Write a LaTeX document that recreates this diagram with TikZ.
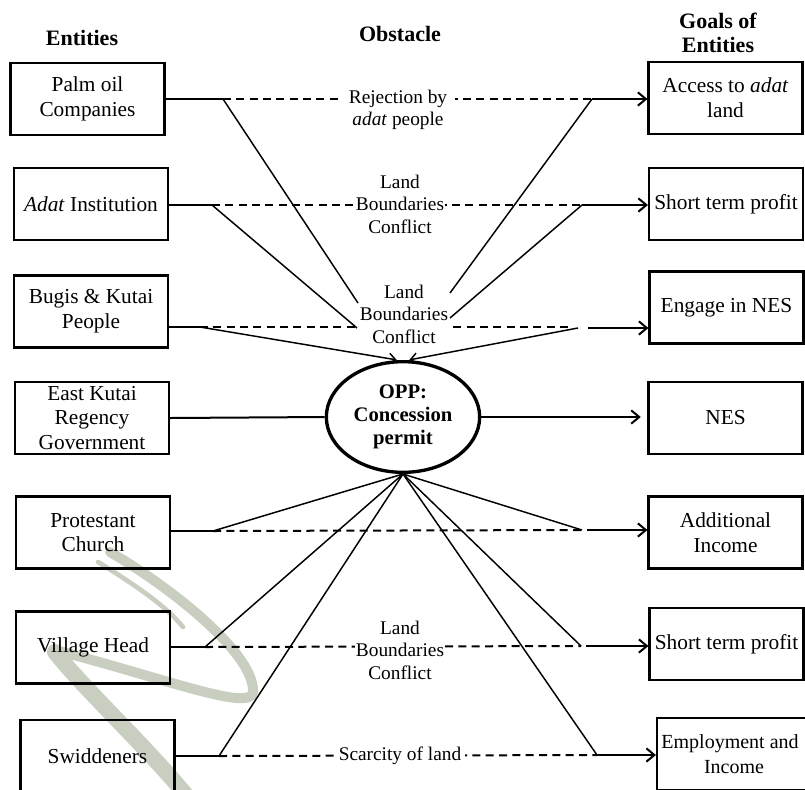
\documentclass[tikz,border=0pt]{standalone}
\usepackage{fontspec}
\setmainfont{Liberation Serif}
\usetikzlibrary{arrows.meta,shapes.geometric}
\definecolor{wmcol}{RGB}{200,206,192}
\begin{document}
\begin{tikzpicture}[x=0.75pt,y=-0.75pt,
  entbox/.style={draw, line width=1.6pt, minimum width=115.5pt, minimum height=54pt,
    align=center, inner sep=2pt, font=\fontsize{16}{18.5}\selectfont},
  hdr/.style={align=center, font=\fontsize{16.5}{17.5}\selectfont\bfseries},
  obst/.style={fill=white, align=center, inner sep=1pt, font=\fontsize{14.5}{16.8}\selectfont},
  stub/.style={line width=1.5pt},
  diag/.style={line width=1.1pt},
  dashln/.style={line width=1.5pt, dash pattern=on 6pt off 4pt},
  goal/.style={line width=1.5pt, -{Straight Barb[length=6pt,width=10pt]}},
  intoopp/.style={line width=1.1pt, -{Straight Barb[length=5pt,width=8pt]}, shorten >=1pt},
  wm/.style={draw=wmcol, line cap=round}
]
\useasboundingbox (0,0) rectangle (805,789);
\clip (0,0) rectangle (805,789);

% faint swoosh in the background
\draw[wm, line width=7.5pt] (110,552) .. controls (175,590) and (255,655) .. (253,692)
  .. controls (251,712) and (170,680) .. (55,650);
\draw[wm, line width=3.5pt] (98,562) .. controls (135,585) and (165,605) .. (183,627);
\draw[wm, line width=12pt] (55,652) .. controls (85,690) and (150,750) .. (190,800);

% column headings
\node[hdr] (hEnt) at (82,38) {Entities};
\node[hdr] (hObs) at (400,34) {Obstacle};
\node[hdr] (hGoal) at (718,33) {Goals of\\Entities};

% entities
\node[entbox] (palm)  at (87.5,99)   {Palm oil\\Companies};
\node[entbox] (adat)  at (91,204)    {\textit{Adat} Institution};
\node[entbox] (bugis) at (91,311.5)  {Bugis \& Kutai\\People};
\node[entbox] (ekrg)  at (92,418)    {East Kutai\\Regency\\Government};
\node[entbox] (prot)  at (93,532.5)  {Protestant\\Church};
\node[entbox] (vill)  at (93,647.5)  {Village Head};
\node[entbox] (swid)  at (97.5,756)  {Swiddeners};

% goals
\node[entbox] (access) at (725.5,98)   {Access to \textit{adat}\\land};
\node[entbox] (stpA)   at (726,204)    {Short term profit};
\node[entbox] (engage) at (726.5,307.5){Engage in NES};
\node[entbox] (nes)    at (725.5,418)  {NES};
\node[entbox] (addinc) at (725.5,532.5){Additional\\Income};
\node[entbox] (stpB)   at (726.5,644)  {Short term profit};
\node[entbox, font=\fontsize{15}{18.5}\selectfont] (employ) at (734,754)
  {\hspace*{-6pt}Employment and\\Income};

% obligatory passage point
\node[ellipse, draw, line width=2.5pt, minimum width=115pt, minimum height=83pt,
  inner sep=0pt, align=center, font=\fontsize{15.5}{17.25}\selectfont\bfseries]
  (opp) at (403,417) {OPP:\\Concession\\permit};

% junction points on each row
\coordinate (jPalmL) at (223,99);
\coordinate (jPalmR) at (592,99);
\coordinate (jAdatL) at (212,205);
\coordinate (jAdatR) at (582,205);
\coordinate (jBugL)  at (200,327);
\coordinate (dBug)   at (572,327);
\coordinate (jBugR)  at (578,328);
\coordinate (aBug)   at (588,328);
\coordinate (jProtL) at (213,531);
\coordinate (jProtR) at (582,530);
\coordinate (aProt)  at (587,530);
\coordinate (jVilL)  at (205,647);
\coordinate (jVilR)  at (581,646);
\coordinate (aVil)   at (586,646);
\coordinate (jSwiL)  at (219,756);
\coordinate (jSwiR)  at (597,755);
% where the crossing lines meet the middle obstacle
\coordinate (eP)  at (358,303);
\coordinate (eA)  at (357,328);
\coordinate (eAc) at (450,293);
\coordinate (eS)  at (450,318);

% rows: entity -> obstacle -> goal
\draw[stub] (palm.east |- jPalmL) -- (jPalmL);
\draw[dashln] (jPalmL) -- (jPalmR);
\draw[goal] (jPalmR) -- (access.west |- jPalmR);

\draw[stub] (adat.east |- jAdatL) -- (jAdatL);
\draw[dashln] (jAdatL) -- (jAdatR);
\draw[goal] (jAdatR) -- (stpA.west |- jAdatR);

\draw[stub] (bugis.east |- jBugL) -- (jBugL);
\draw[dashln] (jBugL) -- (dBug);
\draw[goal] (aBug) -- (engage.west |- aBug);

\draw[stub] (ekrg.east) -- (opp.west);
\draw[goal, shorten >=5pt] (opp.east) -- (nes.west |- opp.east);

\draw[stub] (prot.east |- jProtL) -- (jProtL);
\draw[dashln] (jProtL) -- (jProtR);
\draw[goal] (aProt) -- (addinc.west |- aProt);

\draw[stub] (vill.east |- jVilL) -- (jVilL);
\draw[dashln] (jVilL) -- (jVilR);
\draw[goal] (aVil) -- (stpB.west |- aVil);

\draw[stub] (swid.east |- jSwiL) -- (jSwiL);
\draw[dashln] (jSwiL) -- (jSwiR);
\draw[goal] (jSwiR) -- (employ.west |- jSwiR);

% crossing lines in the upper half
\draw[diag] (jPalmL) -- (eP);
\draw[diag] (jAdatL) -- (eA);
\draw[diag] (jPalmR) -- (eAc);
\draw[diag] (jAdatR) -- (eS);
\draw[intoopp] (jBugL) -- (opp.95);
\draw[intoopp] (jBugR) -- (opp.85);

% fan below the passage point
\foreach \c in {jProtL,jVilL,jSwiL,jProtR,jVilR,jSwiR}
  \draw[diag] (opp.south) -- (\c);

% obstacles
\node[obst, inner xsep=6pt] (rej) at (398,110) {Rejection by\\\textit{adat} people};
\node[obst] (lbA)  at (400,204) {Land\\Boundaries\\Conflict};
\node[obst] (lbB)  at (404,314) {Land\\Boundaries\\Conflict};
\node[obst] (lbC)  at (400,650) {Land\\Boundaries\\Conflict};
\node[obst, inner xsep=3pt] (scar) at (400,756) {Scarcity of land};
\end{tikzpicture}
\end{document}
